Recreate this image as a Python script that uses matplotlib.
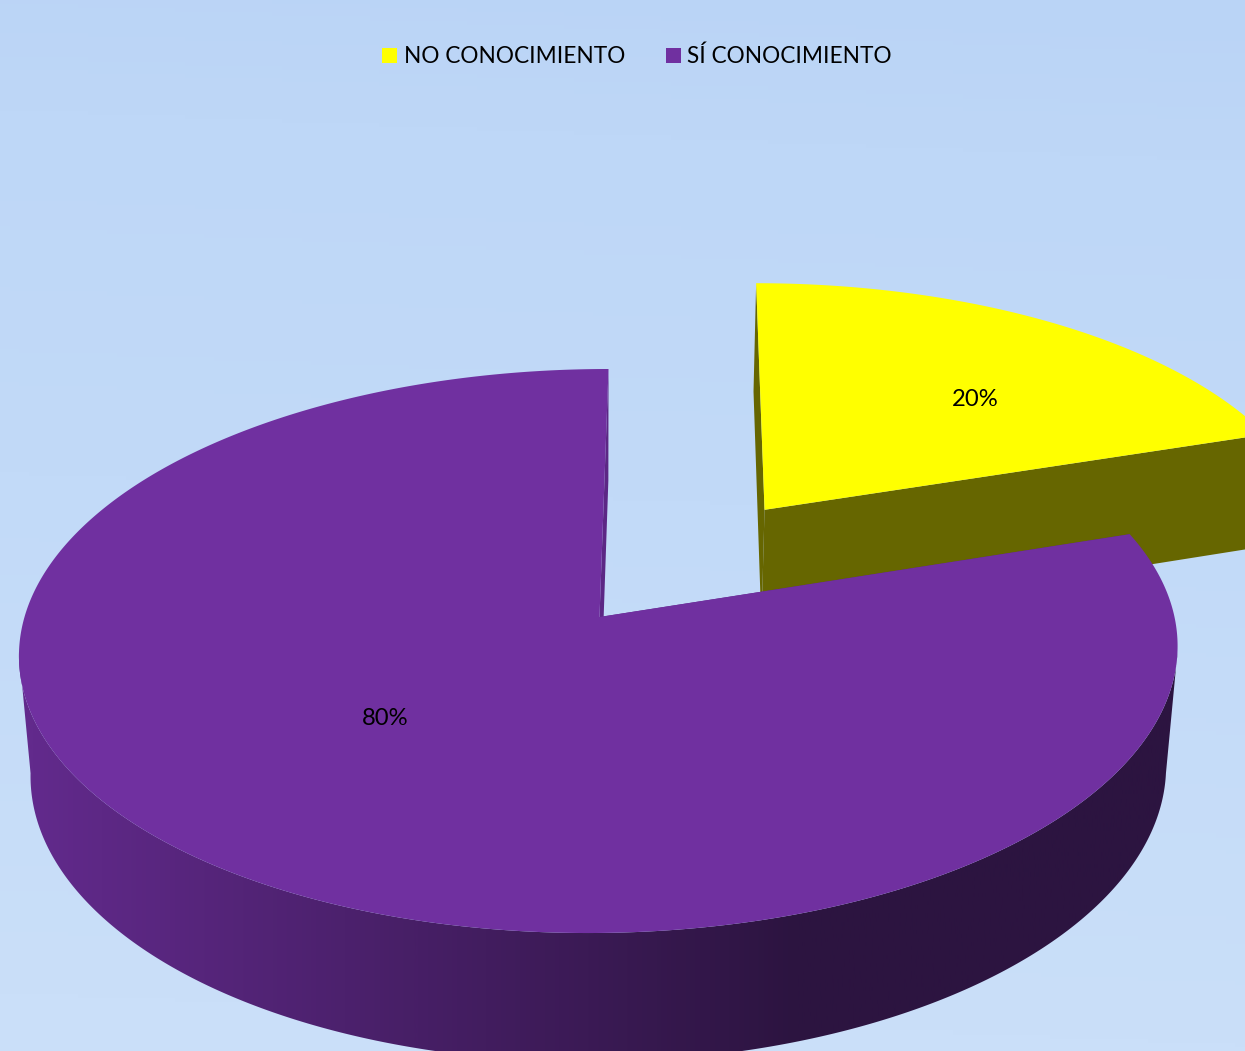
import numpy as np
import matplotlib
matplotlib.use("Agg")
import matplotlib.pyplot as plt
from matplotlib.colors import LinearSegmentedColormap
from matplotlib.lines import Line2D
from matplotlib.patches import Polygon

categories = ["NO CONOCIMIENTO", "SÍ CONOCIMIENTO"]
values = [20, 80]
explode = [0.5, 0.0]
labels = ["20%", "80%"]
top_colors = ["#FFFF00", "#7030A0"]
wall_colors = ["#666600", "#5C2785"]

W, H = 1245, 1051
label_xy = [(975, 400), (385, 718.5)]
plt.rcParams["font.family"] = ["Lato", "DejaVu Sans"]


def project(x, y, z):
    """Perspective view of the pie: unit-radius disc, z = 0 top, z = 1 bottom."""
    d = 1 + 0.1206 * y + 0.02 * z
    return ((575 * x + 82.4 * y + 599.5 + 12 * z) / d,
            (-203.5 * y + 617 + 134.5 * z) / d)


fig = plt.figure(figsize=(W / 100, H / 100), dpi=100)
ax = fig.add_axes([0, 0, 1, 1])

bg = LinearSegmentedColormap.from_list(
    "bg", [(0, "#BAD4F6"), (0.15, "#BED7F7"), (0.5, "#C2DAF8"), (1, "#CADFF9")])
gx, gy = np.meshgrid(np.linspace(0, 1, 128), np.linspace(0, 1, 256))
ax.imshow(np.clip(gy + 0.05 * (1 - gx), 0, 1), cmap=bg, vmin=0, vmax=1,
          extent=(0, W, H, 0), aspect="auto", zorder=0)

shade = LinearSegmentedColormap.from_list(
    "shade", [(0, "#622A8C"), (30 / W, "#622A8C"), (800 / W, "#2C1440"), (1, "#2C1440")])

total = sum(values)
start = 0.0
for i, (v, e) in enumerate(zip(values, explode)):
    end = start + 2 * np.pi * v / total
    mid = (start + end) / 2
    ox, oy = e * np.sin(mid), e * np.cos(mid)
    th = np.linspace(start, end, 721)
    xs, ys = ox + np.sin(th), oy + np.cos(th)

    # cut walls
    for a in (end, start):
        px, py = ox + np.sin(a), oy + np.cos(a)
        quad = [project(ox, oy, 0), project(px, py, 0),
                project(px, py, 1), project(ox, oy, 1)]
        ax.add_patch(Polygon(quad, closed=True, fc=wall_colors[i],
                             ec="none", zorder=2 + 3 * i))
    # outer rim: only the part that faces the viewer
    front = np.cos(th) < -0.12
    if front.any():
        tx, ty = project(xs[front], ys[front], 0)
        bx, by = project(xs[front], ys[front], 1)
        outline = np.r_[np.c_[tx, ty], np.c_[bx, by][::-1]]
        rim = Polygon(outline, closed=True, fc="none", ec="none",
                      transform=ax.transData)
        ax.add_patch(rim)
        im = ax.imshow(np.linspace(0, 1, 1024)[None, :], cmap=shade, vmin=0, vmax=1,
                       extent=(0, W, H, 0), aspect="auto", zorder=3 + 3 * i)
        im.set_clip_path(rim)
    # top face
    px, py = project(np.r_[ox, xs], np.r_[oy, ys], 0)
    ax.add_patch(Polygon(np.c_[px, py], closed=True, fc=top_colors[i],
                         ec="none", zorder=4 + 3 * i))
    ax.text(*label_xy[i], labels[i], ha="center", va="center", fontsize=17.2,
            color="black", zorder=20)
    start = end

ax.set_xlim(0, W)
ax.set_ylim(H, 0)
ax.axis("off")

handles = [Line2D([], [], ls="none", marker="s", ms=10.8, mfc=c, mec=c, mew=0)
           for c in top_colors]
ax.legend(handles, categories, loc="center", bbox_to_anchor=(635, 56),
          bbox_transform=ax.transData, ncol=2, frameon=False, fontsize=16.3,
          handlelength=1.0, handletextpad=0.14, columnspacing=1.6,
          labelcolor="black", borderpad=0)

fig.savefig("out.png", dpi=100)
